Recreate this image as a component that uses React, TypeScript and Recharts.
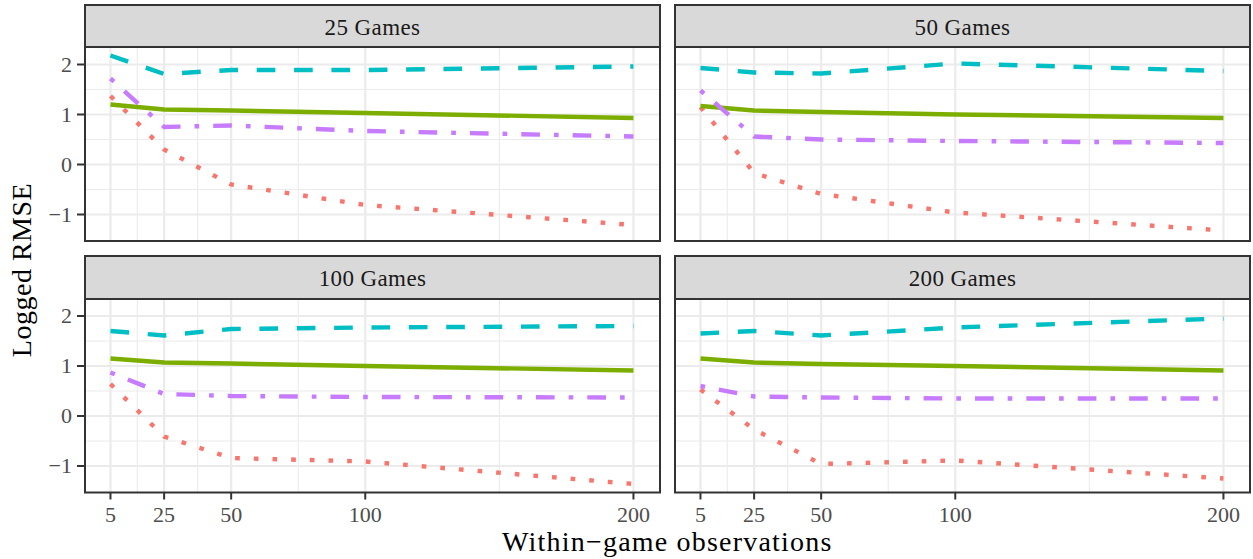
import React from "react";
import { LineChart, Line, XAxis, YAxis, ReferenceLine } from "recharts";

// ---- data ----
const observations = [5, 25, 50, 100, 200];
const panelTitles = ["25 Games", "50 Games", "100 Games", "200 Games"];
const xTicks = [5, 25, 50, 100, 200];
const xMinor = [15, 37.5, 75, 150];
const yTicks = [-1, 0, 1, 2];
const yMinor = [-0.5, 0.5, 1.5];

const red25 = [1.37, 0.3, -0.4, -0.81, -1.21];
const green25 = [1.2, 1.1, 1.08, 1.03, 0.93];
const cyan25 = [2.18, 1.81, 1.89, 1.89, 1.96];
const purple25 = [1.72, 0.75, 0.78, 0.67, 0.56];

const red50 = [1.15, -0.17, -0.59, -0.96, -1.32];
const green50 = [1.17, 1.08, 1.05, 1.0, 0.93];
const cyan50 = [1.93, 1.84, 1.82, 2.02, 1.87];
const purple50 = [1.48, 0.56, 0.5, 0.47, 0.43];

const red100 = [0.64, -0.41, -0.84, -0.91, -1.36];
const green100 = [1.15, 1.07, 1.05, 1.0, 0.91];
const cyan100 = [1.7, 1.61, 1.74, 1.77, 1.8];
const purple100 = [0.87, 0.44, 0.4, 0.38, 0.37];

const red200 = [0.53, -0.27, -0.96, -0.89, -1.25];
const green200 = [1.15, 1.07, 1.04, 1.0, 0.91];
const cyan200 = [1.65, 1.7, 1.61, 1.77, 1.95];
const purple200 = [0.6, 0.39, 0.37, 0.35, 0.35];

const panelSeries = [
  [red25, green25, cyan25, purple25],
  [red50, green50, cyan50, purple50],
  [red100, green100, cyan100, purple100],
  [red200, green200, cyan200, purple200],
];

// ---- styles ----
const COLORS = { red: "#F8766D", green: "#7CAE00", cyan: "#00BFC4", purple: "#C77CFF" };
const U = 4.67;
const LW = 4.4;
const FONT = "'Liberation Serif', 'Times New Roman', serif";
const X_DOMAIN: [number, number] = [-4.5, 209.9];
const Y_DOMAIN: [number, number] = [-1.53, 2.35];

const fmtY = (v: number) => (v < 0 ? "\u2212" + Math.abs(v) : String(v));

function buildRows(idx: number) {
  const [r, g, c, p] = panelSeries[idx];
  return observations.map((x, i) => ({ x, red: r[i], green: g[i], cyan: c[i], purple: p[i] }));
}

const XTick = (props: any) => {
  const { x, y, payload } = props;
  return (
    <text x={x} y={y} dy={17} textAnchor="middle" fontFamily={FONT} fontSize={22} fill="#4D4D4D">
      {String(payload.value)}
    </text>
  );
};

const YTick = (props: any) => {
  const { x, y, payload } = props;
  return (
    <text x={x} y={y} dy={7.4} textAnchor="end" fontFamily={FONT} fontSize={22} fill="#4D4D4D">
      {fmtY(payload.value)}
    </text>
  );
};

type PanelProps = {
  idx: number;
  left: number;
  top: number;
  width: number;
  height: number;
  margin: { top: number; right: number; bottom: number; left: number };
  showX: boolean;
  showY: boolean;
};

function Panel({ idx, left, top, width, height, margin, showX, showY }: PanelProps) {
  const data = buildRows(idx);
  return (
    <div style={{ position: "absolute", left, top, width, height }}>
      <LineChart width={width} height={height} data={data} margin={margin}>
        <XAxis
          dataKey="x"
          type="number"
          domain={X_DOMAIN}
          ticks={xTicks}
          allowDataOverflow
          hide={!showX}
          height={40}
          axisLine={false}
          tickSize={7}
          tickMargin={5}
          tickLine={{ stroke: "#333333", strokeWidth: 2 }}
          tick={XTick}
          interval={0}
        />
        <YAxis
          type="number"
          domain={Y_DOMAIN}
          ticks={yTicks}
          allowDataOverflow
          hide={!showY}
          width={85}
          axisLine={false}
          tickSize={8}
          tickMargin={5}
          tickLine={{ stroke: "#333333", strokeWidth: 2 }}
          tick={YTick}
          interval={0}
        />
        {yMinor.map((v) => (
          <ReferenceLine key={"ym" + v} y={v} stroke="#EBEBEB" strokeWidth={1.1} />
        ))}
        {xMinor.map((v) => (
          <ReferenceLine key={"xm" + v} x={v} stroke="#EBEBEB" strokeWidth={1.1} />
        ))}
        {yTicks.map((v) => (
          <ReferenceLine key={"yM" + v} y={v} stroke="#EBEBEB" strokeWidth={2.2} />
        ))}
        {xTicks.map((v) => (
          <ReferenceLine key={"xM" + v} x={v} stroke="#EBEBEB" strokeWidth={2.2} />
        ))}
        <Line dataKey="red" type="linear" stroke={COLORS.red} strokeWidth={LW} strokeDasharray={`${U} ${3 * U}`} dot={false} isAnimationActive={false} strokeLinecap="butt" />
        <Line dataKey="green" type="linear" stroke={COLORS.green} strokeWidth={LW} dot={false} isAnimationActive={false} strokeLinecap="butt" />
        <Line dataKey="cyan" type="linear" stroke={COLORS.cyan} strokeWidth={LW} strokeDasharray={`${4 * U} ${4 * U}`} dot={false} isAnimationActive={false} strokeLinecap="butt" />
        <Line dataKey="purple" type="linear" stroke={COLORS.purple} strokeWidth={LW} strokeDasharray={`${U} ${3 * U} ${4 * U} ${3 * U}`} dot={false} isAnimationActive={false} strokeLinecap="butt" />
      </LineChart>
    </div>
  );
}

export default function App() {
  const topMargin = { top: 47, bottom: 19 };
  const botMargin = { top: 48.5, bottom: 26.5 };
  const strips = [
    { x: 84, y: 4, h: 44, baseline: 35 },
    { x: 674, y: 4, h: 44, baseline: 35 },
    { x: 84, y: 255, h: 45, baseline: 286 },
    { x: 674, y: 255, h: 45, baseline: 286 },
  ];
  const boxes = [
    { x: 85, y: 47, w: 575, h: 194 },
    { x: 675, y: 47, w: 575, h: 194 },
    { x: 85, y: 298.5, w: 575, h: 194 },
    { x: 675, y: 298.5, w: 575, h: 194 },
  ];
  return (
    <div style={{ position: "absolute", left: 0, top: 0, width: 1253, height: 559, background: "#FFFFFF", overflow: "hidden" }}>
      <Panel idx={0} left={0} top={0} width={662} height={260} margin={{ ...topMargin, left: 0, right: 2 }} showX={false} showY={true} />
      <Panel idx={1} left={660} top={0} width={592} height={260} margin={{ ...topMargin, left: 15, right: 2 }} showX={false} showY={false} />
      <Panel idx={2} left={0} top={250} width={662} height={309} margin={{ ...botMargin, left: 0, right: 2 }} showX={true} showY={true} />
      <Panel idx={3} left={660} top={250} width={592} height={309} margin={{ ...botMargin, left: 15, right: 2 }} showX={true} showY={false} />
      <svg width={1253} height={559} style={{ position: "absolute", left: 0, top: 0, pointerEvents: "none" }}>
        {boxes.map((b, i) => (
          <rect key={"b" + i} x={b.x} y={b.y} width={b.w} height={b.h} fill="none" stroke="#333333" strokeWidth={2} />
        ))}
        {strips.map((s, i) => (
          <g key={"s" + i}>
            <rect x={s.x + 1} y={s.y + 1} width={575} height={s.h - 2} fill="#D9D9D9" stroke="#333333" strokeWidth={2} />
            <text x={s.x + 288.5} y={s.baseline} textAnchor="middle" fontFamily={FONT} fontSize={23} fill="#1A1A1A" letterSpacing={0.4}>
              {panelTitles[i]}
            </text>
          </g>
        ))}
        <text x={667.3} y={551} textAnchor="middle" fontFamily={FONT} fontSize={28} fill="#000000" letterSpacing={1.2}>
          Within{"\u2212"}game observations
        </text>
        <text transform="translate(31,270) rotate(-90)" textAnchor="middle" fontFamily={FONT} fontSize={28} fill="#000000" letterSpacing={0.5}>
          Logged RMSE
        </text>
      </svg>
    </div>
  );
}
